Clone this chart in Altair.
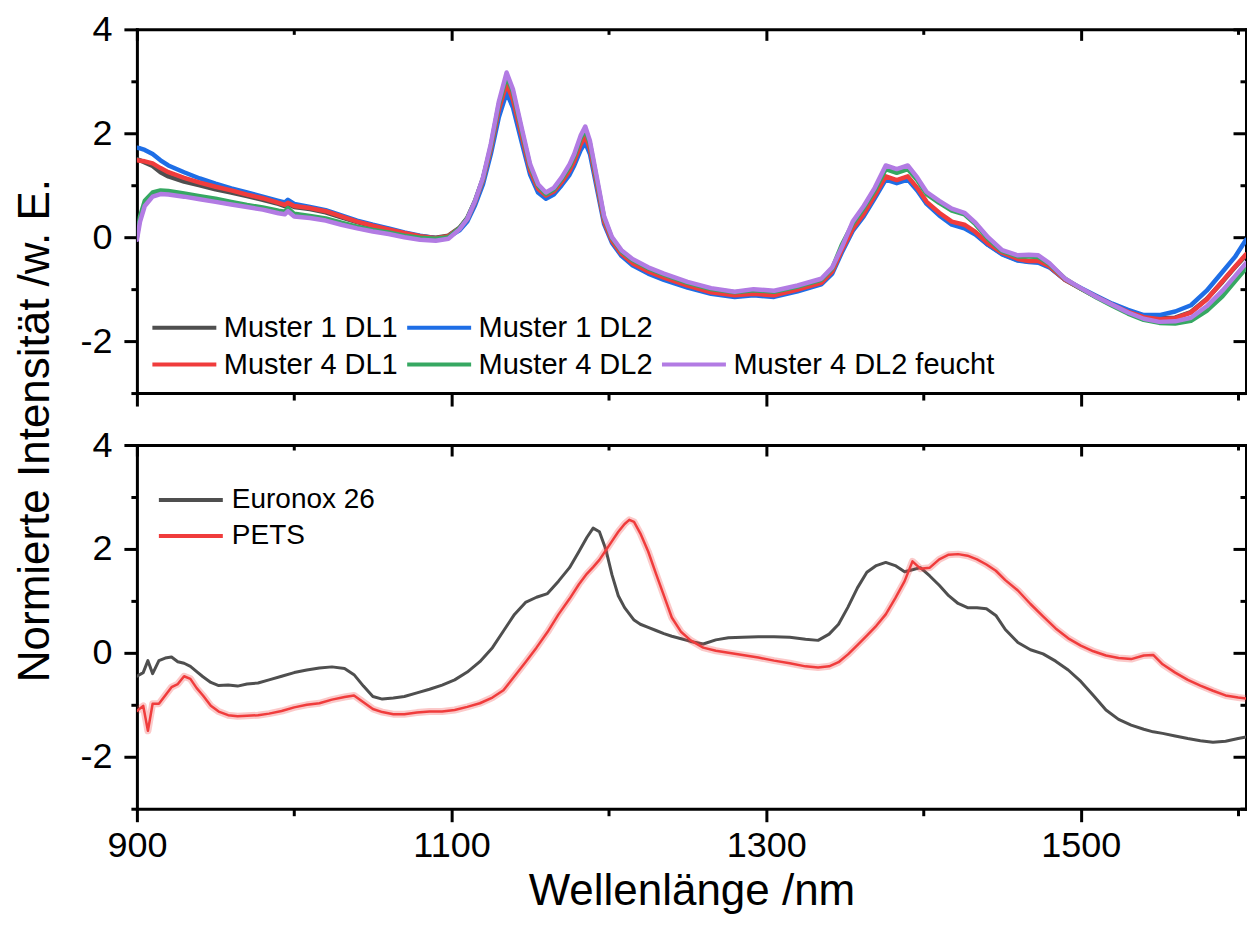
import altair as alt
import pandas as pd

FONT = "Liberation Sans"

# ---------------- top panel data ----------------
WL_TOP = [900, 902, 905, 910, 915, 920, 930, 940, 950, 960,
          970, 980, 990, 994, 996, 1000, 1010, 1020, 1030, 1040,
          1050, 1060, 1070, 1080, 1090, 1098, 1105, 1110, 1115, 1120,
          1125, 1130, 1135, 1139, 1145, 1150, 1155, 1160, 1165, 1170,
          1175, 1178, 1182, 1185, 1188, 1193, 1197, 1202, 1208, 1215,
          1225, 1235, 1250, 1265, 1280, 1292, 1305, 1320, 1335, 1342,
          1348, 1355, 1362, 1369, 1376, 1383, 1390, 1396, 1402, 1410,
          1418, 1426, 1433, 1441, 1450, 1460, 1467, 1473, 1480, 1490,
          1500, 1510, 1520, 1530, 1540, 1550, 1560, 1570, 1580, 1590,
          1598, 1605]

M1_DL1 = [1.5, 1.48, 1.44, 1.37, 1.25, 1.17, 1.07, 1.0, 0.92, 0.86,
          0.79, 0.72, 0.64, 0.6, 0.64, 0.58, 0.54, 0.48, 0.38, 0.29,
          0.21, 0.14, 0.07, 0.02, -0.01, 0.03, 0.18, 0.37, 0.7, 1.13,
          1.72, 2.47, 2.98, 2.68, 1.92, 1.3, 0.95, 0.82, 0.9, 1.08,
          1.31, 1.5, 1.84, 2.0, 1.75, 0.95, 0.33, -0.05, -0.29, -0.47,
          -0.63, -0.75, -0.9, -1.03, -1.09, -1.05, -1.08, -0.98, -0.85, -0.63,
          -0.22, 0.18, 0.46, 0.8, 1.15, 1.08, 1.15, 0.93, 0.66, 0.44,
          0.26, 0.2, 0.07, -0.14, -0.32, -0.44, -0.47, -0.47, -0.57, -0.82,
          -0.99, -1.15, -1.3, -1.44, -1.53, -1.56, -1.55, -1.44, -1.19, -0.86,
          -0.58, -0.35]

M1_DL2 = [1.72, 1.71, 1.68, 1.6, 1.48, 1.38, 1.25, 1.13, 1.03, 0.94,
          0.86, 0.78, 0.7, 0.67, 0.72, 0.64, 0.58, 0.52, 0.42, 0.32,
          0.24, 0.17, 0.09, 0.03, -0.02, 0.0, 0.13, 0.3, 0.62, 1.02,
          1.6, 2.3, 2.78, 2.5, 1.78, 1.2, 0.86, 0.74, 0.82, 1.0,
          1.2, 1.38, 1.67, 1.82, 1.6, 0.85, 0.25, -0.11, -0.36, -0.54,
          -0.7, -0.82, -0.97, -1.09, -1.15, -1.12, -1.15, -1.04, -0.91, -0.7,
          -0.3, 0.12, 0.4, 0.75, 1.11, 1.04, 1.11, 0.9, 0.64, 0.42,
          0.24, 0.17, 0.05, -0.15, -0.33, -0.45, -0.48, -0.49, -0.58, -0.82,
          -0.98, -1.13, -1.28, -1.4, -1.5, -1.5, -1.43, -1.31, -1.03, -0.67,
          -0.38, -0.05]

M4_DL1 = [1.48, 1.47, 1.46, 1.42, 1.33, 1.25, 1.14, 1.05, 0.97, 0.9,
          0.82, 0.75, 0.66, 0.62, 0.66, 0.6, 0.56, 0.5, 0.4, 0.3,
          0.22, 0.15, 0.08, 0.02, -0.02, 0.02, 0.17, 0.35, 0.68, 1.1,
          1.7, 2.45, 2.95, 2.65, 1.9, 1.28, 0.93, 0.8, 0.88, 1.06,
          1.28, 1.46, 1.78, 1.94, 1.7, 0.92, 0.3, -0.07, -0.32, -0.5,
          -0.66, -0.78, -0.93, -1.06, -1.12, -1.09, -1.12, -1.01, -0.88, -0.66,
          -0.25, 0.16, 0.45, 0.8, 1.17, 1.1, 1.17, 0.95, 0.68, 0.47,
          0.3, 0.24, 0.1, -0.12, -0.3, -0.42, -0.46, -0.46, -0.56, -0.82,
          -0.99, -1.15, -1.3, -1.44, -1.54, -1.58, -1.56, -1.45, -1.2, -0.85,
          -0.57, -0.33]

M4_DL2 = [0.0, 0.4, 0.7, 0.86, 0.9, 0.89, 0.84, 0.79, 0.74, 0.68,
          0.62, 0.57, 0.51, 0.49, 0.56, 0.45, 0.41, 0.36, 0.28, 0.2,
          0.14, 0.09, 0.03, -0.01, -0.03, 0.0, 0.17, 0.36, 0.7, 1.13,
          1.76, 2.55, 3.1, 2.8, 2.0, 1.36, 0.99, 0.83, 0.92, 1.12,
          1.36, 1.56, 1.9, 2.07, 1.8, 1.0, 0.37, -0.02, -0.27, -0.44,
          -0.6, -0.72, -0.88, -1.0, -1.06, -1.02, -1.05, -0.95, -0.82, -0.6,
          -0.15, 0.26, 0.56, 0.9, 1.31, 1.24, 1.31, 1.1, 0.83, 0.66,
          0.51, 0.44, 0.25, -0.03, -0.27, -0.37, -0.37, -0.38, -0.52, -0.8,
          -0.99, -1.16, -1.32, -1.47, -1.59, -1.65, -1.66, -1.61, -1.42, -1.14,
          -0.85, -0.6]

M4_DL2_F = [-0.05, 0.3, 0.6, 0.78, 0.83, 0.82, 0.78, 0.73, 0.68, 0.63,
            0.58, 0.53, 0.46, 0.44, 0.5, 0.4, 0.37, 0.32, 0.24, 0.17,
            0.11, 0.06, 0.0, -0.05, -0.07, -0.03, 0.15, 0.35, 0.7, 1.15,
            1.8, 2.6, 3.17, 2.85, 2.05, 1.4, 1.02, 0.86, 0.95, 1.15,
            1.4, 1.6, 1.95, 2.13, 1.85, 1.05, 0.4, 0.0, -0.25, -0.42,
            -0.58, -0.7, -0.86, -0.98, -1.05, -1.0, -1.03, -0.93, -0.8, -0.58,
            -0.2, 0.3, 0.6, 0.95, 1.38, 1.31, 1.38, 1.15, 0.87, 0.7,
            0.55, 0.47, 0.28, 0.0, -0.25, -0.35, -0.34, -0.35, -0.5, -0.8,
            -0.98, -1.15, -1.3, -1.45, -1.57, -1.63, -1.62, -1.55, -1.33, -1.03,
            -0.75, -0.5]

# legend is filled column by column: blank entry keeps "feucht" alone in column 3
TOP_NAMES = ["Muster 1 DL1", "Muster 4 DL1", "Muster 1 DL2", "Muster 4 DL2", " ", "Muster 4 DL2 feucht"]
TOP_COLORS = ["#4f4f4f", "#f03c3c", "#1e6ee6", "#36a862", "rgba(0,0,0,0)", "#b27be3"]
DRAW_ORDER = ["Muster 1 DL1", "Muster 1 DL2", "Muster 4 DL1", "Muster 4 DL2", "Muster 4 DL2 feucht"]

# ---------------- bottom panel data ----------------
WL_BOT = [900, 904, 907, 910, 914, 918, 922, 926, 930, 934,
          938, 942, 947, 952, 958, 964, 970, 977, 984, 992,
          1000, 1008, 1016, 1024, 1032, 1038, 1044, 1050, 1056, 1063,
          1070, 1078, 1086, 1094, 1102, 1110, 1118, 1126, 1133, 1140,
          1147, 1154, 1161, 1168, 1175, 1181, 1186, 1190, 1194, 1198,
          1202, 1206, 1210, 1213, 1216, 1220, 1225, 1230, 1235, 1240,
          1246, 1252, 1260, 1268, 1276, 1285, 1295, 1305, 1315, 1325,
          1333, 1340, 1346, 1352, 1358, 1364, 1370, 1376, 1382, 1388,
          1393, 1398, 1404, 1410, 1416, 1422, 1428, 1434, 1440, 1446,
          1452, 1460, 1468, 1476, 1484, 1492, 1500, 1508, 1516, 1524,
          1532, 1540, 1546, 1552, 1560, 1568, 1576, 1584, 1592, 1600,
          1605]

EURONOX = [-0.45, -0.38, -0.15, -0.4, -0.15, -0.1, -0.08, -0.17, -0.2, -0.26,
           -0.36, -0.46, -0.57, -0.63, -0.62, -0.64, -0.6, -0.58, -0.52, -0.45,
           -0.38, -0.33, -0.29, -0.27, -0.3, -0.42, -0.64, -0.84, -0.89, -0.87,
           -0.84, -0.77, -0.7, -0.62, -0.52, -0.37, -0.17, 0.1, 0.42, 0.74,
           0.97, 1.07, 1.14, 1.38, 1.64, 1.95, 2.22, 2.4, 2.33, 2.0,
           1.5, 1.1, 0.87, 0.75, 0.63, 0.55, 0.49, 0.43, 0.37, 0.32,
           0.27, 0.22, 0.17, 0.25, 0.29, 0.3, 0.31, 0.31, 0.3, 0.26,
           0.24, 0.36, 0.55, 0.88, 1.25, 1.55, 1.68, 1.74, 1.68, 1.56,
           1.6, 1.64, 1.48, 1.3, 1.1, 0.95, 0.87, 0.87, 0.85, 0.72,
           0.45, 0.2, 0.06, -0.02, -0.16, -0.33, -0.55, -0.82, -1.1, -1.28,
           -1.39, -1.47, -1.52, -1.55, -1.6, -1.65, -1.69, -1.72, -1.7, -1.65,
           -1.62]

PETS = [-1.12, -1.02, -1.5, -0.98, -0.98, -0.82, -0.66, -0.6, -0.45, -0.5,
        -0.68, -0.82, -1.02, -1.13, -1.2, -1.22, -1.21, -1.2, -1.17, -1.12,
        -1.05, -1.0, -0.97, -0.9, -0.85, -0.82, -0.95, -1.08, -1.14, -1.18,
        -1.18, -1.15, -1.13, -1.13, -1.1, -1.04, -0.97, -0.86, -0.72, -0.45,
        -0.18, 0.1, 0.4, 0.74, 1.04, 1.32, 1.52, 1.65, 1.79, 1.97,
        2.15, 2.33, 2.48, 2.56, 2.52, 2.3, 1.95, 1.52, 1.1, 0.68,
        0.4, 0.24, 0.1, 0.04, 0.0, -0.04, -0.09, -0.15, -0.2, -0.26,
        -0.28, -0.26, -0.18, -0.03, 0.15, 0.33, 0.52, 0.74, 1.05, 1.38,
        1.76, 1.62, 1.64, 1.8, 1.89, 1.9, 1.87, 1.8, 1.7, 1.58,
        1.4, 1.2, 0.94, 0.7, 0.47, 0.28, 0.14, 0.03, -0.05, -0.1,
        -0.12, -0.05, -0.04, -0.22, -0.38, -0.52, -0.63, -0.73, -0.82, -0.86,
        -0.88]

BOT_NAMES = ["Euronox 26", "PETS"]
BOT_COLORS = ["#4f4f4f", "#f03c3c"]

X_MAJOR = [900, 1100, 1300, 1500]
X_MINOR = [1000, 1200, 1400, 1600]
Y_MAJOR = [-2, 0, 2, 4]
Y_MINOR = [-3, -1, 1, 3]

W, H = 1110, 364
LEGEND_LINE = "M-3.2,0H3.2"   # long horizontal stroke drawn around a small symbol box


def long_df(wl, series):
    rows = []
    for name, vals in series.items():
        for w, v in zip(wl, vals):
            rows.append({"wl": w, "val": v, "series": name})
    return pd.DataFrame(rows)


top_df = long_df(WL_TOP, {
    "Muster 1 DL1": M1_DL1, "Muster 1 DL2": M1_DL2, "Muster 4 DL1": M4_DL1,
    "Muster 4 DL2": M4_DL2, "Muster 4 DL2 feucht": M4_DL2_F})
bot_df = long_df(WL_BOT, {"Euronox 26": EURONOX, "PETS": PETS})

xscale = alt.Scale(domain=[900, 1605], nice=False, zero=False)
yscale = alt.Scale(domain=[-3, 4], nice=False, zero=False)

TICK = dict(grid=False, domain=False, tickColor="black", tickWidth=3,
            labelFlush=False, labelOverlap=False)
DOM = dict(domain=True, domainColor="black", domainWidth=3, domainCap="square")


def axis_layers(df, x_labels, y_title):
    specs = []
    xa = dict(TICK, **DOM, orient="bottom", values=X_MAJOR, tickSize=13)
    if x_labels:
        xa.update(labels=True, labelExpr="datum.value", labelFontSize=36,
                  labelPadding=35, labelBaseline="alphabetic",
                  title="Wellenlänge /nm", titleFontSize=44, titleX=W / 2, titleY=96,
                  titleBaseline="alphabetic", titleAlign="center")
    else:
        xa.update(labels=False, title=None)
    ya = dict(TICK, **DOM, orient="left", values=Y_MAJOR, tickSize=13, labels=True,
              labelExpr="datum.value", labelFontSize=36, labelPadding=12)
    if y_title:
        ya.update(title="Normierte Intensität /w. E.", titleFontSize=44, titleX=-88,
                  titleY=401, titleAngle=270, titleAlign="center", titleBaseline="alphabetic")
    else:
        ya.update(title=None)
    specs.append((xa, ya))
    specs.append((dict(TICK, orient="bottom", values=X_MINOR, tickSize=7, labels=False, title=None),
                  dict(TICK, orient="left", values=Y_MINOR, tickSize=6, labels=False, title=None)))
    specs.append((dict(TICK, **DOM, orient="bottom", offset=-H, values=X_MAJOR, tickSize=11, labels=False, title=None),
                  dict(TICK, **DOM, orient="left", offset=-W, values=Y_MAJOR, tickSize=13, labels=False, title=None)))
    specs.append((dict(TICK, orient="bottom", offset=-H, values=X_MINOR, tickSize=5, labels=False, title=None),
                  dict(TICK, orient="left", offset=-W, values=Y_MINOR, tickSize=6, labels=False, title=None)))
    layers = []
    for xa_, ya_ in specs:
        layers.append(
            alt.Chart(df).mark_line(opacity=0).encode(
                x=alt.X("wl:Q", scale=xscale, axis=alt.Axis(**xa_)),
                y=alt.Y("val:Q", scale=yscale, axis=alt.Axis(**ya_)),
                detail="series:N",
            )
        )
    return layers


def data_layer(df, name, domain, colors, legend, width):
    return alt.Chart(df[df.series == name]).mark_line(
        strokeWidth=width, clip=True, strokeJoin="round", strokeCap="round"
    ).encode(
        x=alt.X("wl:Q", scale=xscale, axis=None),
        y=alt.Y("val:Q", scale=yscale, axis=None),
        color=alt.Color("series:N", scale=alt.Scale(domain=domain, range=colors), legend=legend),
    )


top_legend = alt.Legend(orient="none", legendX=33, legendY=284, columns=3, title=None,
                        symbolType=LEGEND_LINE, symbolSize=400, symbolStrokeWidth=4,
                        labelFontSize=29, labelFont=FONT, labelColor="black", labelLimit=600,
                        labelOffset=25, rowPadding=7, columnPadding=0, padding=0)
bot_legend = alt.Legend(orient="none", legendX=40, legendY=41, direction="vertical", title=None,
                        symbolType=LEGEND_LINE, symbolSize=400, symbolStrokeWidth=4,
                        labelFontSize=28, labelFont=FONT, labelColor="black", labelLimit=600,
                        labelOffset=27, rowPadding=8, padding=0)

top_layers = [data_layer(top_df, n, TOP_NAMES, TOP_COLORS, top_legend, 4.5) for n in DRAW_ORDER]
top = alt.layer(*top_layers, *axis_layers(top_df, False, True)).resolve_axis(
    x="independent", y="independent").properties(width=W, height=H)

pets_band = alt.Chart(bot_df[bot_df.series == "PETS"]).mark_line(
    color="#f03c3c", strokeWidth=7, opacity=0.28, clip=True, strokeJoin="round"
).encode(x=alt.X("wl:Q", scale=xscale, axis=None), y=alt.Y("val:Q", scale=yscale, axis=None))

bot_layers = [data_layer(bot_df, "Euronox 26", BOT_NAMES, BOT_COLORS, bot_legend, 3),
              pets_band,
              data_layer(bot_df, "PETS", BOT_NAMES, BOT_COLORS, bot_legend, 2.5)]
bottom = alt.layer(*bot_layers, *axis_layers(bot_df, True, False)).resolve_axis(
    x="independent", y="independent").properties(width=W, height=H)

chart = alt.vconcat(top, bottom, spacing=52, bounds="flush").resolve_scale(
    color="independent"
).properties(
    padding={"left": 5, "top": 3, "right": -1, "bottom": 0}
).configure_view(
    stroke=None
).configure_axis(
    labelFont=FONT, titleFont=FONT, labelColor="black", titleColor="black",
    titleFontWeight="normal"
).configure_legend(labelFont=FONT)

chart.save("out.html", embed_options={"renderer": "svg", "actions": False})
